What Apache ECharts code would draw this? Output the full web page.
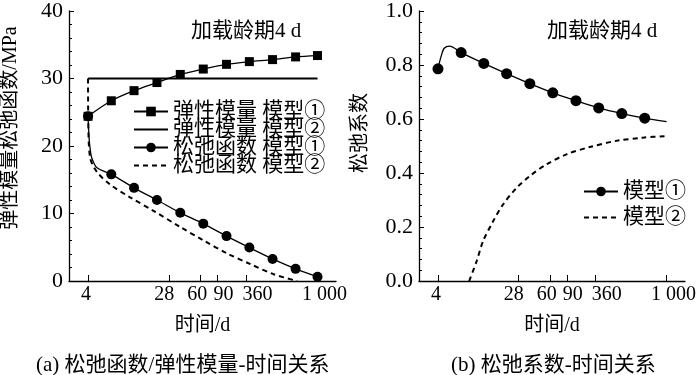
<!DOCTYPE html>
<html>
<head>
<meta charset="utf-8">
<script src="https://cdn.jsdelivr.net/npm/echarts@6/dist/echarts.min.js"></script>
<style>
  html, body { margin: 0; padding: 0; background: #fff; }
  #main { width: 700px; height: 375px; }
</style>
</head>
<body>
<div id="main"></div>
<script>
// time axis: tick positions, and where the printed labels sit (they are spread out in the figure)
const tickValues = [4, 28, 60, 90, 180, 1000];
const labelValues = [3.81, 25, 55.4, 104, 236, 1180];
const tickLabels = ['4', '28', '60', '90', '360', '1 000'];

// (a) elastic modulus
const modulusTimes = [4, 7, 12.1, 21, 36.8, 64, 112, 194, 339, 590, 1000];
const modulusModel1 = [24.4, 26.7, 28.2, 29.4, 30.6, 31.4, 32.1, 32.5, 32.8, 33.2, 33.4];
const modulusModel2Times = [4, 1000];
const modulusModel2 = [30, 30];

// (a) relaxation function
const markerTimesA = [4, 7, 12.1, 21, 36.8, 64, 112, 194, 339, 590, 1000];
const relaxTimes1 = [4, 4.1, 4.2, 4.36, 4.93, 7, 12.1, 21, 36.8, 64, 112, 194, 339, 590, 1000];
const relaxModel1 = [24.4, 21.2, 19.7, 18.3, 16.8, 15.8, 13.8, 12.0, 10.1, 8.5, 6.65, 4.95, 3.27, 1.8, 0.63];
const relaxTimes2 = [4, 4.02, 4.2, 4.93, 6.8, 11, 19.3, 36.8, 64.5, 113, 199, 348, 612];
const relaxModel2 = [30, 24.4, 18.3, 16.2, 14.3, 12.4, 10.4, 8.0, 6.0, 4.1, 2.5, 1.0, 0];

// (b) relaxation coefficient
const markerTimesB = [4, 7, 12.1, 21, 36.8, 64, 112, 194, 339, 590];
const coefTimes1 = [4, 4.3, 4.65, 5.3, 7, 12.1, 21, 36.8, 64, 112, 194, 339, 590, 1000];
const coefModel1 = [0.786, 0.83, 0.862, 0.870, 0.846, 0.806, 0.768, 0.731, 0.697, 0.668, 0.641, 0.620, 0.603, 0.590];
const coefTimes2 = [8.5, 10.2, 11.9, 15.2, 19.3, 26.7, 36.8, 55, 89, 156, 297, 565, 1000];
const coefModel2 = [0, 0.074, 0.148, 0.222, 0.284, 0.345, 0.389, 0.432, 0.469, 0.496, 0.519, 0.531, 0.537];

const FONT = '"Liberation Serif", "Noto Sans CJK SC", serif';

function pairs(times, values, marked) {
  return times.map((t, i) => {
    const item = { value: [t, values[i]] };
    if (marked && marked.indexOf(t) < 0) item.symbol = 'none';
    return item;
  });
}

function timeAxis(gridIndex) {
  return {
    type: 'log',
    gridIndex: gridIndex,
    logBase: 10,
    min: 2.53,
    max: 1560,
    name: '时间/d',
    nameLocation: 'middle',
    nameGap: 35,
    nameTextStyle: { fontFamily: FONT, fontSize: 20, color: '#000' },
    axisLine: { show: true, lineStyle: { color: '#000', width: 1.3 } },
    axisTick: { show: true, inside: true, length: 6, customValues: tickValues, lineStyle: { color: '#000' } },
    minorTick: { show: false },
    axisLabel: {
      customValues: labelValues,
      margin: 4,
      fontFamily: FONT,
      fontSize: 20,
      color: '#000',
      formatter: function (v) {
        let best = 0;
        labelValues.forEach((lv, i) => {
          if (Math.abs(Math.log(lv / v)) < Math.abs(Math.log(labelValues[best] / v))) best = i;
        });
        return tickLabels[best];
      }
    },
    splitLine: { show: false }
  };
}

function valueAxis(gridIndex, name, max, interval, shift, fmt) {
  return {
    type: 'value',
    gridIndex: gridIndex,
    min: 0,
    max: max,
    interval: interval,
    name: name,
    nameLocation: 'middle',
    nameGap: 48,
    nameTextStyle: { fontFamily: FONT, fontSize: 20, color: '#000', padding: [0, 0, 0, shift] },
    axisLine: { show: true, lineStyle: { color: '#000', width: 1.3 } },
    axisTick: { show: true, inside: true, length: 5, lineStyle: { color: '#000' } },
    minorTick: { show: true, splitNumber: 5, length: 3, lineStyle: { color: '#000' } },
    axisLabel: { margin: 6, fontFamily: FONT, fontSize: 22, color: '#000', formatter: fmt },
    splitLine: { show: false }
  };
}

const chart = echarts.init(document.getElementById('main'));

const plainText = size => ({ fontFamily: FONT, fontSize: size, fontWeight: 'normal', color: '#000' });
const lineOnly = name => ({ name: name, itemStyle: { opacity: 0 } });

const option = {
  backgroundColor: '#fff',
  animation: false,
  title: [
    { text: '加载龄期4 d', left: 186, top: 16, textStyle: plainText(21) },
    { text: '加载龄期4 d', left: 542, top: 16, textStyle: plainText(21) },
    { text: '(a) 松弛函数/弹性模量-时间关系', left: 31, top: 350, textStyle: plainText(21) },
    { text: '(b) 松弛系数-时间关系', left: 446, top: 350, textStyle: plainText(21) }
  ],
  legend: [
    {
      data: ['弹性模量 模型①', lineOnly('弹性模量 模型②'), '松弛函数 模型①', lineOnly('松弛函数 模型②')],
      orient: 'vertical',
      left: 133,
      top: 101,
      itemWidth: 34,
      itemHeight: 12,
      itemGap: -3,
      padding: 0,
      textStyle: { fontFamily: FONT, fontSize: 21, color: '#000' }
    },
    {
      data: ['模型①', lineOnly('模型②')],
      orient: 'vertical',
      left: 583,
      top: 181,
      itemWidth: 34,
      itemHeight: 12,
      itemGap: 5,
      padding: 0,
      textStyle: { fontFamily: FONT, fontSize: 21, color: '#000' }
    }
  ],
  grid: [
    { left: 69, top: 9, width: 267, height: 272 },
    { left: 419, top: 10, width: 266, height: 271 }
  ],
  xAxis: [timeAxis(0), timeAxis(1)],
  yAxis: [
    valueAxis(0, '弹性模量松弛函数/MPa', 40, 10, 36),
    valueAxis(1, '松弛系数', 1, 0.2, 26, v => v.toFixed(1))
  ],
  series: [
    {
      name: '弹性模量 模型①',
      type: 'line',
      xAxisIndex: 0, yAxisIndex: 0,
      symbol: 'rect', symbolSize: 9,
      smooth: 0.3,
      lineStyle: { color: '#000', width: 1.3 },
      itemStyle: { color: '#000' },
      data: pairs(modulusTimes, modulusModel1)
    },
    {
      name: '弹性模量 模型②',
      type: 'line',
      xAxisIndex: 0, yAxisIndex: 0,
      symbol: 'none',
      lineStyle: { color: '#000', width: 2 },
      itemStyle: { color: '#000' },
      data: pairs(modulusModel2Times, modulusModel2)
    },
    {
      name: '松弛函数 模型①',
      type: 'line',
      xAxisIndex: 0, yAxisIndex: 0,
      symbol: 'circle', symbolSize: 10,
      smooth: 0.3,
      lineStyle: { color: '#000', width: 1.3 },
      itemStyle: { color: '#000' },
      data: pairs(relaxTimes1, relaxModel1, markerTimesA)
    },
    {
      name: '松弛函数 模型②',
      type: 'line',
      xAxisIndex: 0, yAxisIndex: 0,
      symbol: 'none',
      smooth: 0.3,
      lineStyle: { color: '#000', width: 2, type: [5, 4] },
      itemStyle: { color: '#000' },
      data: pairs(relaxTimes2, relaxModel2)
    },
    {
      name: '模型①',
      type: 'line',
      xAxisIndex: 1, yAxisIndex: 1,
      symbol: 'circle', symbolSize: 11,
      smooth: 0.3,
      lineStyle: { color: '#000', width: 1.3 },
      itemStyle: { color: '#000' },
      data: pairs(coefTimes1, coefModel1, markerTimesB)
    },
    {
      name: '模型②',
      type: 'line',
      xAxisIndex: 1, yAxisIndex: 1,
      symbol: 'none',
      smooth: 0.3,
      lineStyle: { color: '#000', width: 2, type: [5, 4] },
      itemStyle: { color: '#000' },
      data: pairs(coefTimes2, coefModel2)
    }
  ]
};

chart.setOption(option);
</script>
</body>
</html>
